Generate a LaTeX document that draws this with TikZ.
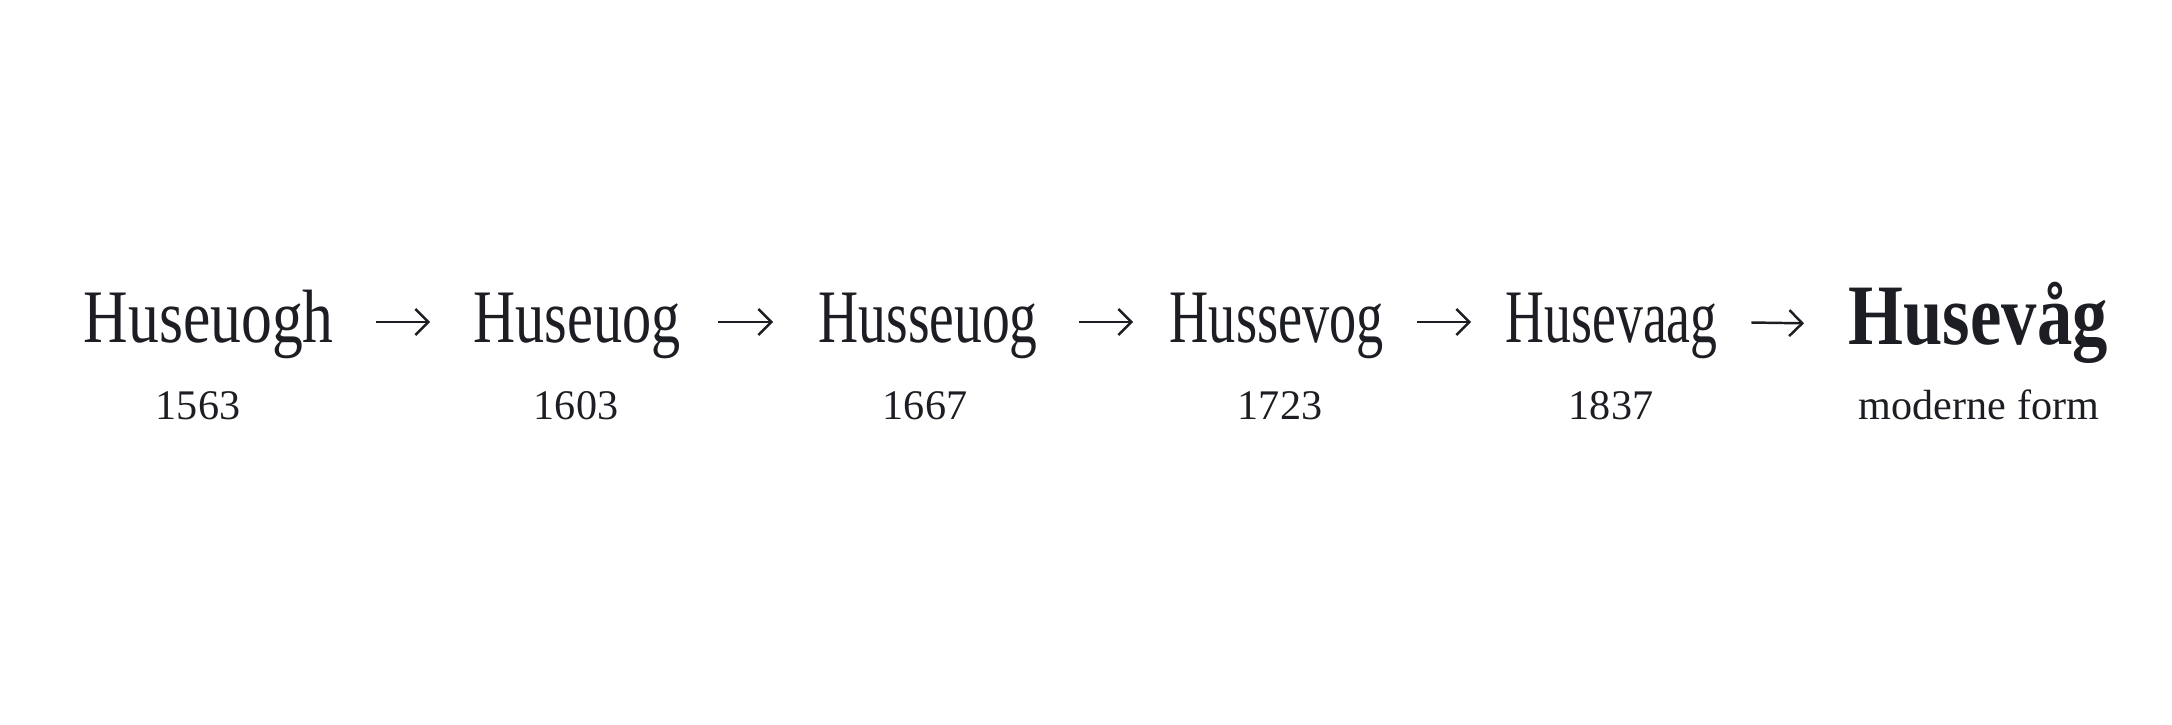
\documentclass[tikz,border=0pt]{standalone}
\usepackage{fontspec}
\setmainfont{Liberation Serif}
\usetikzlibrary{arrows.meta}
\definecolor{ink}{RGB}{28,30,35}
\newcommand{\squeezeto}[2]{\resizebox{#1}{\height}{#2}}

\begin{document}
\begin{tikzpicture}[color=ink]
\tikzset{word/.style = {anchor=base west, inner sep=0pt, font=\fontsize{21.5}{24}\selectfont}}
\tikzset{year/.style = {anchor=base, inner sep=0pt, font=\fontsize{12}{14}\selectfont}}
\tikzset{edge/.style = {-{Straight Barb[length=1.3mm, width=2.6mm]}, line width=.7pt}}

\useasboundingbox (0,0) rectangle (21.72,7.24);

% name forms
\node[word] (w1) at (0.83, 3.82) {\squeezeto{2.50cm}{Huseuogh}};
\node[word] (w2) at (4.73, 3.82) {\squeezeto{2.07cm}{Huseuog}};
\node[word] (w3) at (8.18, 3.82) {\squeezeto{2.19cm}{Husseuog}};
\node[word] (w4) at (11.69, 3.82) {\squeezeto{2.14cm}{Hussevog}};
\node[word] (w5) at (15.05, 3.82) {\squeezeto{2.12cm}{Husevaag}};
\node[word, font=\fontsize{24.5}{27}\selectfont\bfseries] (w6) at (18.48, 3.80) {\squeezeto{2.59cm}{Husevåg}};

% years
\node[year] (y1) at (1.98, 3.045) {1563};
\node[year] (y2) at (5.76, 3.045) {1603};
\node[year] (y3) at (9.25, 3.045) {1667};
\node[year] (y4) at (12.80, 3.045) {1723};
\node[year] (y5) at (16.11, 3.045) {1837};
\node[year] (y6) at (19.79, 3.045) {moderne form};

\foreach \a/\b/\s/\e in {w1/w2/.42cm/.43cm, w2/w3/.37cm/.45cm, w3/w4/.41cm/.36cm, w4/w5/.33cm/.34cm, w5/w6/.33cm/.44cm}
  {\draw[edge, shorten <=\s, shorten >=\e] ([yshift=2mm]\a.base east) -- ([yshift=2mm]\b.base west);}

\end{tikzpicture}
\end{document}
